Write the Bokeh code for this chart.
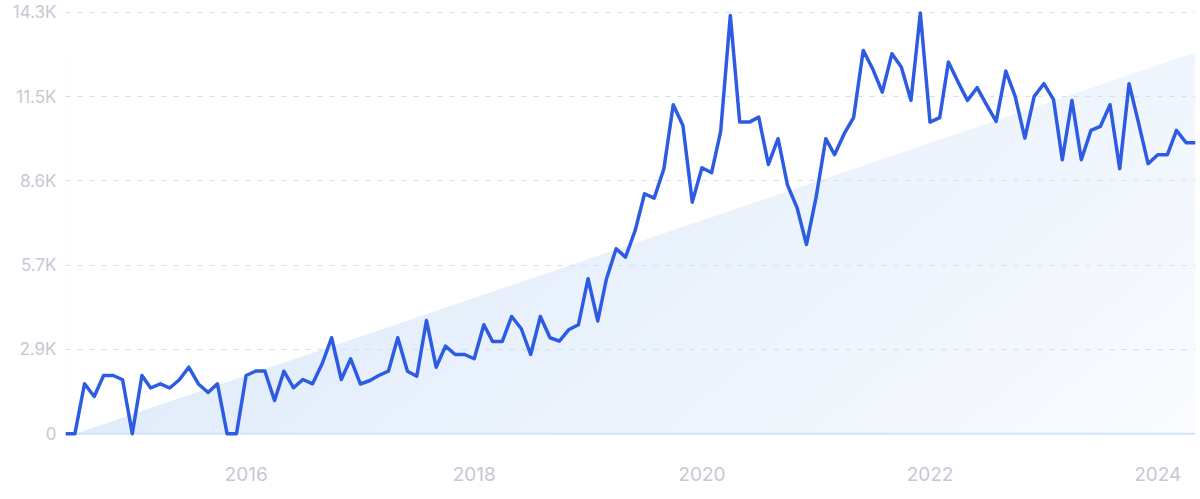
import numpy as np
import pandas as pd
from bokeh.plotting import figure
from bokeh.models import Range1d, FixedTicker, Span
from bokeh.embed import file_html
from bokeh.resources import INLINE

# ---------------- data ----------------
first_month = "2014-06-01"
search_volume = [
    0, 0, 1700, 1268, 1982, 1982, 1836, 0, 1982, 1557,
    1700, 1557, 1836, 2264, 1693, 1404, 1700, 0, 0, 1982,
    2135, 2135, 1132, 2128, 1564, 1846, 1700, 2390, 3264, 1846,
    2550, 1693, 1812, 1982, 2128, 3264, 2128, 1958, 3852, 2264,
    2978, 2696, 2696, 2550, 3706, 3138, 3138, 3988, 3570, 2696,
    3988, 3264, 3148, 3546, 3706, 5270, 3835, 5270, 6290, 6004,
    6912, 8160, 8010, 9010, 11186, 10482, 7874, 9044, 8874, 10278,
    14222, 10594, 10594, 10764, 9156, 10030, 8459, 7677, 6436, 8044,
    10030, 9486, 10200, 10744, 13032, 12410, 11614, 12920, 12464, 11332,
    14300, 10594, 10744, 12634, 11954, 11332, 11764, 11186, 10618, 12328,
    11468, 10050, 11468, 11900, 11356, 9316, 11332, 9316, 10312, 10448,
    11186, 9010, 11900, 10540, 9180, 9486, 9486, 10312, 9894, 9894,
]
trend_values = [0, 0, 12960]          # trend area: first month, second month, last month

y_tick_values = [0, 2866, 5732, 8598, 11464, 14330]
y_tick_labels = ["0", "2.9K", "5.7K", "8.6K", "11.5K", "14.3K"]
x_tick_years = [2016, 2018, 2020, 2022, 2024]

dates = pd.date_range(first_month, periods=len(search_volume), freq="MS")
trend_dates = [dates[0], dates[1], dates[-1]]

Y_START, Y_END = -126, 14592

# ---------------- figure ----------------
p = figure(
    width=1200, height=499,
    x_axis_type="datetime",
    x_range=Range1d(dates[0], dates[-1]),
    y_range=Range1d(Y_START, Y_END),
    output_backend="svg", toolbar_location=None,
    min_border_left=65, min_border_right=5, min_border_top=4, min_border_bottom=62,
)
p.outline_line_color = None
p.background_fill_color = "white"
p.border_fill_color = "white"

# gradient fill under trend (image + white mask above trend line)
ny, nx = 220, 600
u = np.linspace(0, 1, nx)[None, :]
v = np.linspace(0, 1, ny)[:, None]
t = np.clip(0.85 * u - 0.35 * v + 0.05, 0, 1)
dark = np.array([224, 236, 251])
light = np.array([253, 254, 255])
rgb = dark[None, None, :] * (1 - t[..., None]) + light[None, None, :] * t[..., None]
img = np.zeros((ny, nx), dtype=np.uint32)
view = img.view(dtype=np.uint8).reshape((ny, nx, 4))
view[..., 0] = rgb[..., 0].astype(np.uint8)
view[..., 1] = rgb[..., 1].astype(np.uint8)
view[..., 2] = rgb[..., 2].astype(np.uint8)
view[..., 3] = 255
x0 = dates[0]
dw_ms = (dates[-1] - dates[0]).total_seconds() * 1000
top = max(trend_values)
p.image_rgba(image=[img], x=x0, y=0, dw=dw_ms, dh=top, level="image")
p.varea(x=trend_dates, y1=trend_values, y2=[Y_END] * 3, fill_color="white", level="image")

# baseline
span = Span(location=0, dimension="width", line_color="#d3e3f8", line_width=2, level="underlay")
p.add_layout(span)

# series line
p.line(dates, search_volume, line_color="#2d5ce3", line_width=3.5, line_join="round")

# axes
p.xgrid.grid_line_color = None
p.ygrid.grid_line_color = "#cde0f8"
p.ygrid.grid_line_dash = "5 7"
p.ygrid.grid_line_width = 1.2
p.ygrid.ticker = FixedTicker(ticks=y_tick_values[1:])

for ax in (p.xaxis, p.yaxis):
    ax.axis_line_color = None
    ax.major_tick_line_color = None
    ax.minor_tick_line_color = None
    ax.major_tick_out = 0
    ax.major_tick_in = 0
    ax.minor_tick_out = 0
    ax.minor_tick_in = 0
    ax.major_label_text_font = "Inter"
    ax.major_label_text_color = "#c6c8d4"

p.yaxis.ticker = FixedTicker(ticks=y_tick_values)
p.yaxis.major_label_overrides = {v_: l for v_, l in zip(y_tick_values, y_tick_labels)}
p.yaxis.major_label_standoff = 9
p.yaxis.major_label_text_font_size = "17px"

x_ticks = [pd.Timestamp(f"{y}-01-01").value // 10**6 for y in x_tick_years]
p.xaxis.ticker = FixedTicker(ticks=x_ticks)
p.xaxis.major_label_overrides = {tk: str(y) for tk, y in zip(x_ticks, x_tick_years)}
p.xaxis.major_label_standoff = 29
p.xaxis.major_label_text_font_size = "19px"

open("out.html", "w").write(file_html(p, INLINE))
